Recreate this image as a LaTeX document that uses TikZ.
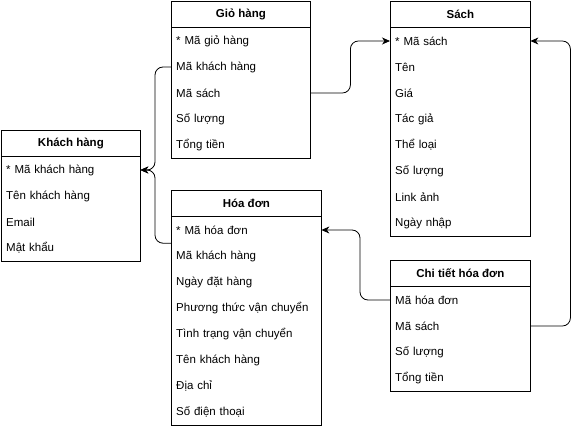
\documentclass[tikz,border=0pt]{standalone}
\usepackage{fontspec}
\setmainfont{Liberation Sans}
\usetikzlibrary{positioning}
\usetikzlibrary{arrows.meta}
\tikzstyle{tablehead}=[
      rectangle,
      draw,
      line width = 0.8pt,
      anchor = north west,
      minimum height = 26pt,
      inner sep = 0pt,
      font = \bfseries\fontsize{11.5}{14}\selectfont
      ]
\tikzstyle{attr}=[
      rectangle,
      anchor = north west,
      minimum height = 26pt,
      inner sep = 0pt,
      inner xsep = 5pt,
      align = left,
      font = \fontsize{11.5}{14}\selectfont
      ]
\tikzstyle{tablebody}=[line width = 0.8pt]
\tikzstyle{link}=[
      line width = 0.8pt,
      rounded corners = 8pt,
      -{Stealth[length=8pt,width=7pt,inset=2.5pt]}
      ]

\begin{document}
\begin{tikzpicture}[x=1pt,y=-1pt]
\useasboundingbox (0,0) rectangle (579,428);

% Khach hang
\node [tablehead, minimum width=139pt] (kh) at (1,130) {Khách hàng};
\foreach \t [count=\i] in {* Mã khách hàng, Tên khách hàng, Email, Mật khẩu}
  \node [attr, text width=129pt] (kh\i) at ([yshift={-26*(\i-1)}]kh.south west) {\t};
\draw [tablebody] (kh1.north west) rectangle (kh4.south east);

% Gio hang
\node [tablehead, minimum width=139pt] (gh) at (171,1) {Giỏ hàng};
\foreach \t [count=\i] in {* Mã giỏ hàng, Mã khách hàng, Mã sách, Số lượng, Tổng tiền}
  \node [attr, text width=129pt] (gh\i) at ([yshift={-26*(\i-1)}]gh.south west) {\t};
\draw [tablebody] (gh1.north west) rectangle (gh5.south east);

% Sach
\node [tablehead, minimum width=140pt] (s) at (390,1) {Sách};
\foreach \t [count=\i] in {* Mã sách, Tên, Giá, Tác giả, Thể loại, Số lượng, Link ảnh, Ngày nhập}
  \node [attr, text width=130pt] (s\i) at ([yshift={-26*(\i-1)}]s.south west) {\t};
\draw [tablebody] (s1.north west) rectangle (s8.south east);

% Hoa don
\node [tablehead, minimum width=150pt] (hd) at (171,190) {Hóa đơn};
\foreach \t [count=\i] in {* Mã hóa đơn, Mã khách hàng, Ngày đặt hàng, Phương thức vận chuyển,
    Tình trạng vận chuyển, Tên khách hàng, Địa chỉ, Số điện thoại}
  \node [attr, text width=140pt] (hd\i) at ([yshift={-26*(\i-1)}]hd.south west) {\t};
\draw [tablebody] (hd1.north west) rectangle (hd8.south east);

% Chi tiet hoa don
\node [tablehead, minimum width=140pt] (ct) at (390,260) {Chi tiết hóa đơn};
\foreach \t [count=\i] in {Mã hóa đơn, Mã sách, Số lượng, Tổng tiền}
  \node [attr, text width=130pt] (ct\i) at ([yshift={-26*(\i-1)}]ct.south west) {\t};
\draw [tablebody] (ct1.north west) rectangle (ct4.south east);

% links
\draw [link] (gh2.west) -- ++(-16,0) |- (kh1.east);
\draw [link] (hd1.south west) -- ++(-16,0) |- (kh1.east);
\draw [link] (gh3.east) -- ++(40,0) |- (s1.west);
\draw [link] (ct1.west) -- ++(-30,0) |- (hd1.east);
\draw [link] (ct2.east) -- ++(40,0) |- (s1.east);
\end{tikzpicture}
\end{document}
